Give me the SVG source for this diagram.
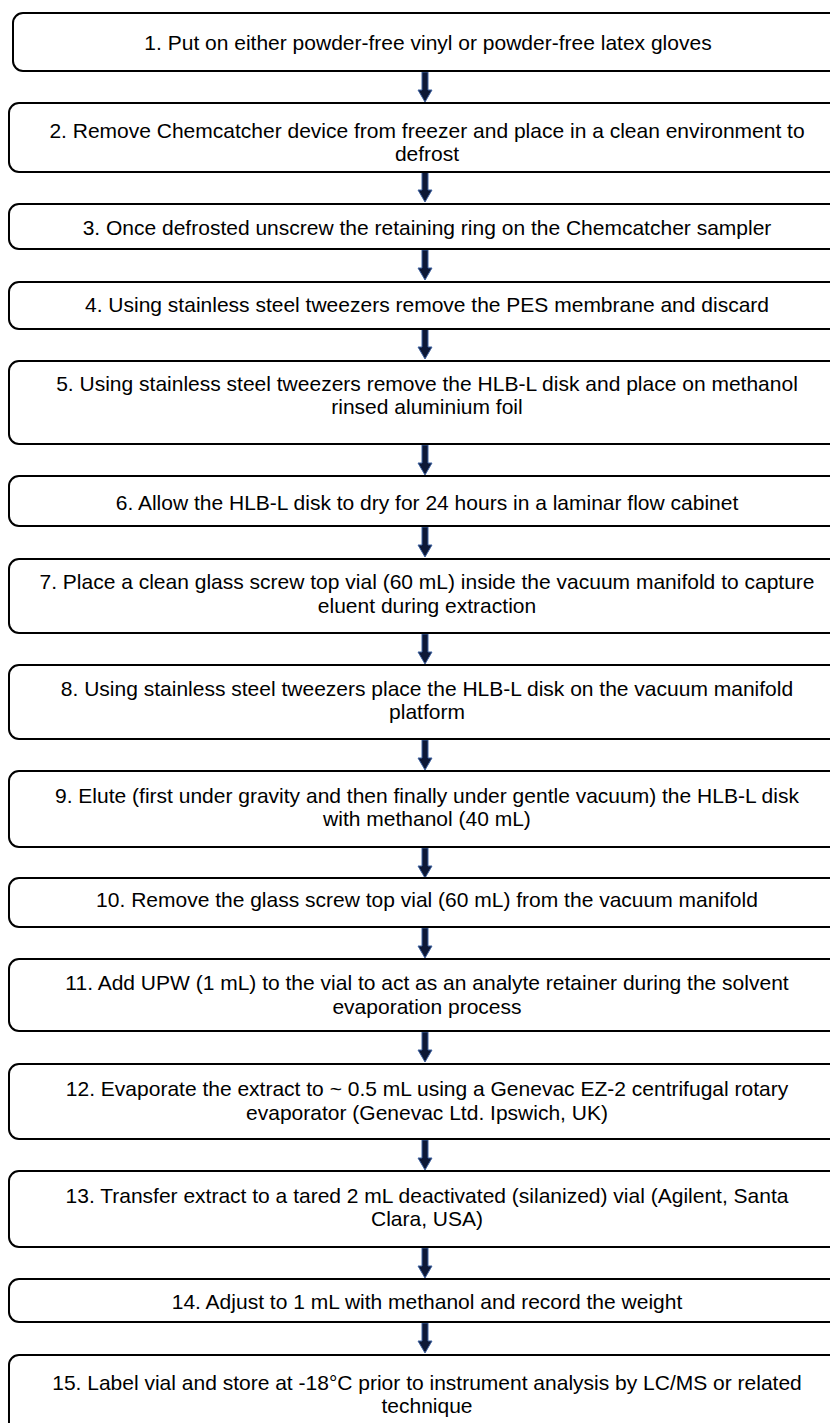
<svg xmlns="http://www.w3.org/2000/svg" width="830" height="1423" viewBox="0 0 830 1423">
<style>
.box{fill:#fff;stroke:#000;stroke-width:2}
.t{font-family:"Liberation Sans",Arial,sans-serif;font-size:21px;fill:#000;text-anchor:middle}
.arr{fill:#0d1836;stroke:#3f62a0;stroke-width:1}
</style>
<defs>
<path id="a" class="arr" d="M-3,0 H3 V18 H7 L0,30 L-7,18 H-3 Z"/>
</defs>
<rect width="830" height="1423" fill="#fff"/>
<g id="connectors">
<use href="#a" x="425" y="72"/>
<use href="#a" x="425" y="172"/>
<use href="#a" x="425" y="250"/>
<use href="#a" x="425" y="329"/>
<use href="#a" x="425" y="445"/>
<use href="#a" x="425" y="527"/>
<use href="#a" x="425" y="634"/>
<use href="#a" x="425" y="740"/>
<use href="#a" x="425" y="848"/>
<use href="#a" x="425" y="928"/>
<use href="#a" x="425" y="1032"/>
<use href="#a" x="425" y="1140"/>
<use href="#a" x="425" y="1248"/>
<use href="#a" x="425" y="1323"/>
</g>
<g id="n1"><rect class="box" x="13" y="13" width="830" height="58" rx="10"/><text class="t" x="428" y="49.5">1. Put on either powder-free vinyl or powder-free latex gloves</text></g>
<g id="n2"><rect class="box" x="9" y="103" width="836" height="69" rx="10"/><text class="t" x="427" y="137.5">2. Remove Chemcatcher device from freezer and place in a clean environment to</text><text class="t" x="427" y="160.5">defrost</text></g>
<g id="n3"><rect class="box" x="9" y="204" width="836" height="45" rx="10"/><text class="t" x="427" y="234.5">3. Once defrosted unscrew the retaining ring on the Chemcatcher sampler</text></g>
<g id="n4"><rect class="box" x="9" y="282" width="836" height="47" rx="10"/><text class="t" x="427" y="311.5">4. Using stainless steel tweezers remove the PES membrane and discard</text></g>
<g id="n5"><rect class="box" x="9" y="361" width="836" height="83" rx="10"/><text class="t" x="427" y="390.5">5. Using stainless steel tweezers remove the HLB-L disk and place on methanol</text><text class="t" x="427" y="413.5">rinsed aluminium foil</text></g>
<g id="n6"><rect class="box" x="9" y="476" width="836" height="50" rx="10"/><text class="t" x="427" y="509.5">6. Allow the HLB-L disk to dry for 24 hours in a laminar flow cabinet</text></g>
<g id="n7"><rect class="box" x="9" y="559" width="836" height="74" rx="10"/><text class="t" x="427" y="588.5">7. Place a clean glass screw top vial (60 mL) inside the vacuum manifold to capture</text><text class="t" x="427" y="612.5">eluent during extraction</text></g>
<g id="n8"><rect class="box" x="9" y="665" width="836" height="74" rx="10"/><text class="t" x="427" y="695.5">8. Using stainless steel tweezers place the HLB-L disk on the vacuum manifold</text><text class="t" x="427" y="718.5">platform</text></g>
<g id="n9"><rect class="box" x="9" y="771" width="836" height="76" rx="10"/><text class="t" x="427" y="802.5">9. Elute (first under gravity and then finally under gentle vacuum) the HLB-L disk</text><text class="t" x="427" y="825.5">with methanol (40 mL)</text></g>
<g id="n10"><rect class="box" x="9" y="878" width="836" height="49" rx="10"/><text class="t" x="427" y="906.5">10. Remove the glass screw top vial (60 mL) from the vacuum manifold</text></g>
<g id="n11"><rect class="box" x="9" y="959" width="836" height="72" rx="10"/><text class="t" x="427" y="989.5">11. Add UPW (1 mL) to the vial to act as an analyte retainer during the solvent</text><text class="t" x="427" y="1013.5">evaporation process</text></g>
<g id="n12"><rect class="box" x="9" y="1064" width="836" height="75" rx="10"/><text class="t" x="427" y="1095.5">12. Evaporate the extract to ~ 0.5 mL using a Genevac EZ-2 centrifugal rotary</text><text class="t" x="427" y="1119.5">evaporator (Genevac Ltd. Ipswich, UK)</text></g>
<g id="n13"><rect class="box" x="9" y="1171" width="836" height="76" rx="10"/><text class="t" x="427" y="1202.5">13. Transfer extract to a tared 2 mL deactivated (silanized) vial (Agilent, Santa</text><text class="t" x="427" y="1225.5">Clara, USA)</text></g>
<g id="n14"><rect class="box" x="9" y="1279" width="836" height="43" rx="10"/><text class="t" x="427" y="1308.5">14. Adjust to 1 mL with methanol and record the weight</text></g>
<g id="n15"><rect class="box" x="9" y="1355" width="836" height="80" rx="10"/><text class="t" x="427" y="1389.5">15. Label vial and store at -18°C prior to instrument analysis by LC/MS or related</text><text class="t" x="427" y="1412.5">technique</text></g>
</svg>
